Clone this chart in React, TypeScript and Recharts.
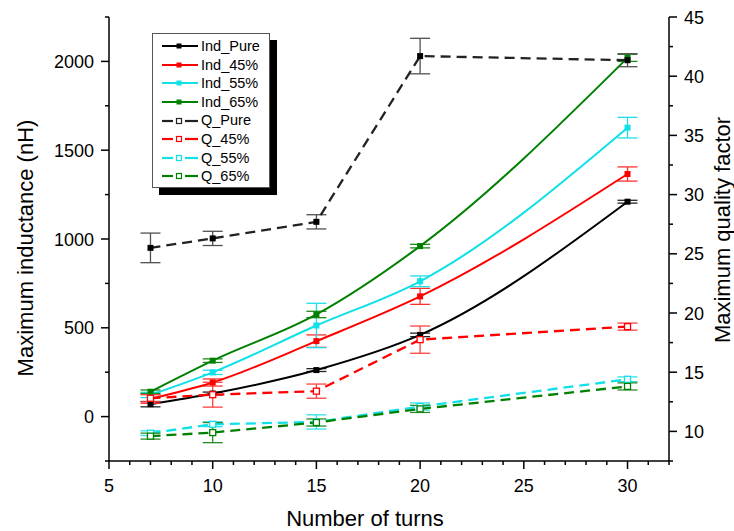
import React from 'react';
import { LineChart, Line, XAxis, YAxis, ErrorBar, Legend } from 'recharts';

const turns = [7, 10, 15, 20, 30];

// inductance (nH), left axis
const indPure = [70, 130, 262, 460, 1210];
const indPureErr = [15, 8, 8, 10, 8];
const ind45 = [100, 192, 425, 677, 1366];
const ind45Err = [25, 20, 35, 45, 40];
const ind55 = [122, 249, 513, 762, 1627];
const ind55Err = [15, 12, 125, 30, 58];
const ind65 = [140, 315, 575, 960, 2020];
const ind65Err = [10, 10, 18, 10, 20];

// quality factor, right axis
const qPure = [25.5, 26.3, 27.7, 41.7, 41.35];
const qPureErr = [1.25, 0.6, 0.6, 1.5, 0.55];
const q45 = [12.8, 13.1, 13.4, 17.75, 18.85];
const q45Err = [0.3, 1.05, 0.6, 1.15, 0.3];
const q55 = [9.85, 10.6, 10.8, 12.1, 14.4];
const q55Err = [0.2, 0.2, 0.6, 0.3, 0.2];
const q65 = [9.6, 9.9, 10.75, 11.9, 13.8];
const q65Err = [0.25, 0.85, 0.3, 0.3, 0.3];

const xMajor = [5, 10, 15, 20, 25, 30];
const xTicks = [5, 6, 7, 8, 9, 10, 11, 12, 13, 14, 15, 16, 17, 18, 19, 20, 21, 22, 23, 24, 25, 26, 27, 28, 29, 30, 31, 32];
const leftTicks = [-250, 0, 250, 500, 750, 1000, 1250, 1500, 1750, 2000, 2250];
const leftMajor = [0, 500, 1000, 1500, 2000];
const rightTicks = [7.5, 10, 12.5, 15, 17.5, 20, 22.5, 25, 27.5, 30, 32.5, 35, 37.5, 40, 42.5, 45];
const rightMajor = [10, 15, 20, 25, 30, 35, 40, 45];

const data = turns.map((t, i) => ({
  turns: t,
  indPure: indPure[i], indPureErr: indPureErr[i],
  ind45: ind45[i], ind45Err: ind45Err[i],
  ind55: ind55[i], ind55Err: ind55Err[i],
  ind65: ind65[i], ind65Err: ind65Err[i],
  qPure: qPure[i], qPureErr: qPureErr[i],
  q45: q45[i], q45Err: q45Err[i],
  q55: q55[i], q55Err: q55Err[i],
  q65: q65[i], q65Err: q65Err[i],
}));

const FONT = '"Liberation Sans", Arial, sans-serif';

const series = [
  { key: 'indPure', name: 'Ind_Pure', color: '#000000', errColor: '#222222', axis: 'left', q: false },
  { key: 'ind45', name: 'Ind_45%', color: '#ff0000', errColor: '#ff3030', axis: 'left', q: false },
  { key: 'ind55', name: 'Ind_55%', color: '#10e0e8', errColor: '#20dde8', axis: 'left', q: false },
  { key: 'ind65', name: 'Ind_65%', color: '#008000', errColor: '#1a8a1a', axis: 'left', q: false },
  { key: 'qPure', name: 'Q_Pure', color: '#222222', errColor: '#505050', axis: 'right', q: true },
  { key: 'q45', name: 'Q_45%', color: '#ff0000', errColor: '#ff4040', axis: 'right', q: true },
  { key: 'q55', name: 'Q_55%', color: '#10e0e8', errColor: '#30e0e8', axis: 'right', q: true },
  { key: 'q65', name: 'Q_65%', color: '#008000', errColor: '#2a8a2a', axis: 'right', q: true },
];

const XTick = (props: any) => {
  const { x, y, payload, showLabel } = props;
  const major = xMajor.includes(payload.value);
  return (
    <g>
      <line x1={x} y1={y} x2={x} y2={y + (major ? 8 : 4)} stroke="#000" strokeWidth={1.5} />
      {showLabel && major && (
        <text x={x} y={y + 31} textAnchor="middle" fontSize={18} fontFamily={FONT} fill="#000">
          {payload.value}
        </text>
      )}
    </g>
  );
};

const LeftTick = (props: any) => {
  const { x, y, payload } = props;
  const major = leftMajor.includes(payload.value);
  return (
    <g>
      <line x1={x - (major ? 8 : 4)} y1={y} x2={x} y2={y} stroke="#000" strokeWidth={1.5} />
      {major && (
        <text x={x - 15} y={y + 6.5} textAnchor="end" fontSize={18} fontFamily={FONT} fill="#000">
          {payload.value}
        </text>
      )}
    </g>
  );
};

const RightTick = (props: any) => {
  const { x, y, payload } = props;
  const major = rightMajor.includes(payload.value);
  return (
    <g>
      <line x1={x} y1={y} x2={x + (major ? 8 : 4)} y2={y} stroke="#000" strokeWidth={1.5} />
      {major && (
        <text x={x + 15} y={y + 6.5} textAnchor="start" fontSize={18} fontFamily={FONT} fill="#000">
          {payload.value}
        </text>
      )}
    </g>
  );
};

const squareDot = (color: string, hollow: boolean, size: number) => (p: any) => {
  const { cx, cy, index } = p;
  if (cx == null || cy == null) return <g key={index} />;
  return (
    <rect
      key={index}
      x={cx - size / 2}
      y={cy - size / 2}
      width={size}
      height={size}
      fill={hollow ? '#fff' : color}
      stroke={color}
      strokeWidth={hollow ? 1.3 : 0}
    />
  );
};

const LegendBox = () => (
  <div
    style={{
      width: 118,
      height: 155,
      background: '#fff',
      border: '1px solid #555',
      boxShadow: '7px 7px 0 #000',
      fontFamily: FONT,
      fontSize: 14.5,
      paddingTop: 3,
      boxSizing: 'border-box',
    }}
  >
    {series.map(s => (
      <div key={s.key} style={{ height: 18.6, display: 'flex', alignItems: 'center' }}>
        <svg width={48} height={12} style={{ flex: 'none' }}>
          {s.q ? (
            <>
              <line x1={9} y1={6} x2={20} y2={6} stroke={s.color} strokeWidth={2.2} />
              <line x1={32} y1={6} x2={45} y2={6} stroke={s.color} strokeWidth={2.2} />
              <rect x={23.5} y={3.5} width={5} height={5} fill="#fff" stroke={s.color} strokeWidth={1.2} />
            </>
          ) : (
            <>
              <line x1={9} y1={6} x2={45} y2={6} stroke={s.color} strokeWidth={2.2} />
              <rect x={23.5} y={3.5} width={5} height={5} fill={s.color} />
            </>
          )}
        </svg>
        <span style={{ color: '#000', lineHeight: 1 }}>{s.name}</span>
      </div>
    ))}
  </div>
);

export default function App() {
  return (
    <div style={{ position: 'absolute', left: 0, top: 0 }}>
      <LineChart width={734} height={531} data={data} margin={{ top: 17, right: 15, bottom: 30, left: 49 }}>
        <XAxis
          xAxisId="bottom"
          dataKey="turns"
          type="number"
          domain={[5, 32]}
          ticks={xTicks}
          interval={0}
          height={40}
          tickSize={0}
          tickMargin={0}
          tickLine={false}
          axisLine={{ stroke: '#000', strokeWidth: 1.5 }}
          tick={<XTick showLabel />}
          allowDataOverflow
          label={{
            content: () => (
              <text x={365} y={526} textAnchor="middle" fontSize={22} fontFamily={FONT} fill="#000">
                Number of turns
              </text>
            ),
          }}
        />
        <XAxis
          xAxisId="top"
          dataKey="turns"
          type="number"
          orientation="top"
          domain={[5, 32]}
          ticks={xTicks}
          interval={0}
          height={0}
          tickSize={0}
          tickMargin={0}
          tickLine={false}
          axisLine={{ stroke: '#000', strokeWidth: 1.5 }}
          tick={<XTick />}
          allowDataOverflow
        />
        <YAxis
          yAxisId="left"
          type="number"
          domain={[-250, 2250]}
          ticks={leftTicks}
          interval={0}
          width={60}
          tickSize={0}
          tickMargin={0}
          tickLine={false}
          axisLine={{ stroke: '#000', strokeWidth: 1.5 }}
          tick={<LeftTick />}
          allowDataOverflow
          label={{
            content: () => (
              <text
                x={33}
                y={248}
                transform="rotate(-90 33 248)"
                textAnchor="middle"
                fontSize={22}
                fontFamily={FONT}
                fill="#000"
              >
                Maximum inductance (nH)
              </text>
            ),
          }}
        />
        <YAxis
          yAxisId="right"
          orientation="right"
          type="number"
          domain={[7.5, 45]}
          ticks={rightTicks}
          interval={0}
          width={50}
          tickSize={0}
          tickMargin={0}
          tickLine={false}
          axisLine={{ stroke: '#000', strokeWidth: 1.5 }}
          tick={<RightTick />}
          allowDataOverflow
          label={{
            content: () => (
              <text
                x={730}
                y={230}
                transform="rotate(-90 730 230)"
                textAnchor="middle"
                fontSize={22}
                fontFamily={FONT}
                fill="#000"
              >
                Maximum quality factor
              </text>
            ),
          }}
        />
        <Legend
          layout="vertical"
          align="center"
          verticalAlign="middle"
          content={() => <LegendBox />}
          wrapperStyle={{ left: 152, top: 33, width: 'auto', height: 'auto' }}
        />
        {series.map(s => (
          <Line
            key={s.key}
            xAxisId="bottom"
            yAxisId={s.axis}
            dataKey={s.key}
            name={s.name}
            type={s.q ? 'linear' : 'monotone'}
            stroke={s.color}
            strokeWidth={s.q ? 2.3 : 2}
            strokeDasharray={s.q ? '10 6' : undefined}
            dot={squareDot(s.key === 'qPure' ? '#000' : s.color, s.q && s.key !== 'qPure', 6)}
            activeDot={false}
            isAnimationActive={false}
          >
            <ErrorBar
              dataKey={s.key + 'Err'}
              direction="y"
              width={10}
              stroke={s.errColor}
              strokeWidth={1.3}
              isAnimationActive={false}
            />
          </Line>
        ))}
      </LineChart>
    </div>
  );
}
